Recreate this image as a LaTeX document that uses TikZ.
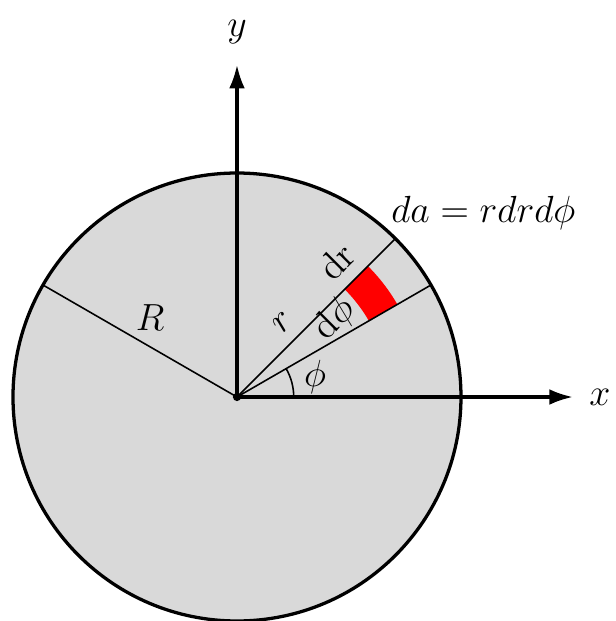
\documentclass[tikz,border=0pt]{standalone}
\usepackage{amsmath}
\usetikzlibrary{arrows.meta}

\begin{document}
\begin{tikzpicture}[
  axis/.style={draw=black,line width=1.25pt,-{Latex[length=9pt,width=6pt]}},
  radial/.style={draw=black,line width=.6pt},
  disc/.style={draw=black,line width=1.25pt,fill=black!15},
  lbl/.style={font=\Large,inner sep=0pt}]

\useasboundingbox (-3.174,-3.0) rectangle (5.063,5.317);

\coordinate (O) at (0,0);
\coordinate (Rend) at (150:3);
\coordinate (lowend) at (30:3);
\coordinate (upend) at (45:3);
\coordinate (xtip) at (4.5,0);
\coordinate (ytip) at (0,4.45);

\draw[disc] (O) circle (3);
\fill[red] (30:2.04) arc (30:45:2.04) -- (45:2.48) arc (45:30:2.48) -- cycle;

\draw[radial] (O) -- (Rend);
\draw[radial] (O) -- (lowend);
\draw[radial] (O) -- (upend);
\draw[radial] (0.76,0) arc (0:30:0.76);

\draw[axis] (O) -- (xtip);
\draw[axis] (O) -- (ytip);
\fill (O) circle (0.055);

\node[lbl] (xlabel) at (4.86,0) {$x$};
\node[lbl] (ylabel) at (0,4.89) {$y$};
\node[lbl] (Rlabel) at (-1.165,1.058) {$R$};
\node[lbl,rotate=45] (rlabel) at (0.62,1.0) {$r$};
\node[lbl,rotate=45] (drlabel) at (1.33,1.82) {$\mathrm{dr}$};
\node[lbl,rotate=45] (dphilabel) at (1.31,1.04) {$\mathrm{d}\phi$};
\node[lbl] (philabel) at (1.045,0.27) {$\phi$};
\node[lbl] (dalabel) at (3.3,2.46) {$da = rdrd\phi$};
\end{tikzpicture}
\end{document}
